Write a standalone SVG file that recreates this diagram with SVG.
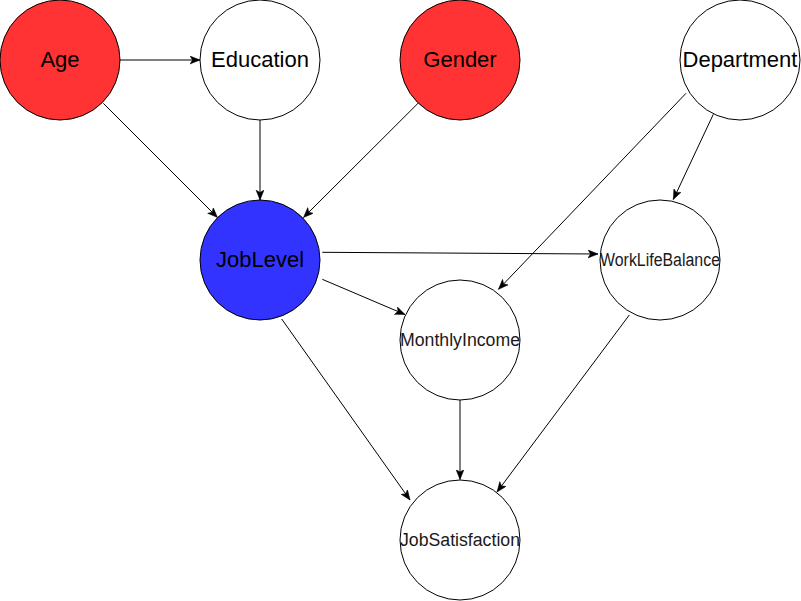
<svg xmlns="http://www.w3.org/2000/svg" width="801" height="601" viewBox="0 0 801 601">
<style>
.node{stroke:#000;stroke-width:1}
.red{fill:#FF3333}
.blue{fill:#3333FF}
.white{fill:#FFFFFF}
.big{font-family:"Liberation Sans",Arial,sans-serif;font-size:22px;fill:#000;text-anchor:middle}
.small{font-family:"Liberation Sans",Arial,sans-serif;font-size:18px;fill:#1a1a1a;text-anchor:middle}
#edges line{stroke:#000;stroke-width:1;fill:none;marker-end:url(#arrow)}
</style>
<defs>
<marker id="arrow" markerUnits="userSpaceOnUse" markerWidth="12" markerHeight="10" refX="10" refY="4" orient="auto">
<path d="M0,0 L10,4 L0,8 L2.5,4 Z" fill="#000" stroke="#000" stroke-width="0.5"/>
</marker>
</defs>
<rect x="0" y="0" width="801" height="601" fill="#FFFFFF"/>
<g id="edges">
<line x1="120" y1="60" x2="200" y2="60"/>
<line x1="103.3" y1="103.3" x2="217.5" y2="217.5"/>
<line x1="260" y1="120" x2="260" y2="200"/>
<line x1="418" y1="103.3" x2="303.5" y2="217.5"/>
<line x1="686" y1="93.3" x2="498.5" y2="289.3"/>
<line x1="713.3" y1="114.3" x2="673.3" y2="199.5"/>
<line x1="322.3" y1="252.3" x2="598" y2="254"/>
<line x1="322.3" y1="279.3" x2="405" y2="314.5"/>
<line x1="281.7" y1="319" x2="410" y2="500"/>
<line x1="460" y1="400" x2="460" y2="479.5"/>
<line x1="629.3" y1="315" x2="497" y2="492"/>
</g>
<g id="node-age"><circle class="node red" cx="60" cy="60" r="60"/><text class="big" x="60" y="66.5">Age</text></g>
<g id="node-education"><circle class="node white" cx="260" cy="60" r="60"/><text class="big" x="260" y="66.5">Education</text></g>
<g id="node-gender"><circle class="node red" cx="460" cy="60" r="60"/><text class="big" x="460" y="66.5">Gender</text></g>
<g id="node-department"><circle class="node white" cx="740" cy="60" r="60"/><text class="big" x="740" y="66.5">Department</text></g>
<g id="node-joblevel"><circle class="node blue" cx="260" cy="260" r="60"/><text class="big" x="260" y="266.5">JobLevel</text></g>
<g id="node-worklifebalance"><circle class="node white" cx="660" cy="260" r="60"/><text class="small" x="660" y="266" textLength="120" lengthAdjust="spacingAndGlyphs">WorkLifeBalance</text></g>
<g id="node-monthlyincome"><circle class="node white" cx="460" cy="340" r="60"/><text class="small" x="460" y="346" textLength="120" lengthAdjust="spacingAndGlyphs">MonthlyIncome</text></g>
<g id="node-jobsatisfaction"><circle class="node white" cx="460" cy="540" r="60"/><text class="small" x="460" y="546" textLength="120" lengthAdjust="spacingAndGlyphs">JobSatisfaction</text></g>
</svg>
